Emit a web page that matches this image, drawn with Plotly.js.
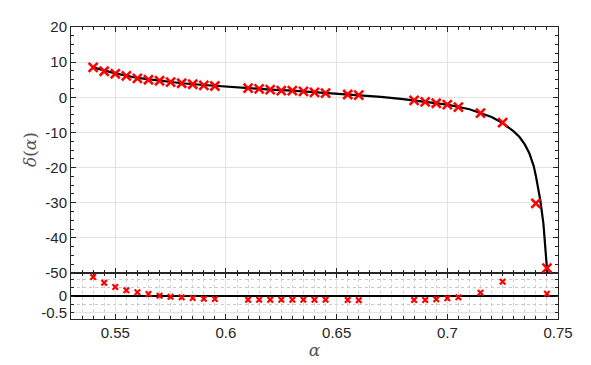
<!DOCTYPE html>
<html>
<head>
<meta charset="utf-8">
<script src="https://cdn.plot.ly/plotly-3.0.1.min.js"></script>
<style>
html, body { margin: 0; padding: 0; background: #fff; }
#chart { width: 591px; height: 365px; }
</style>
</head>
<body>
<div id="chart"></div>
<script>
// measured points (red crosses)
const alphaPts = [0.54, 0.545, 0.55, 0.555, 0.56, 0.565, 0.57, 0.575, 0.58, 0.585, 0.59, 0.595,
                  0.61, 0.615, 0.62, 0.625, 0.63, 0.635, 0.64, 0.645, 0.655, 0.66,
                  0.685, 0.69, 0.695, 0.70, 0.705, 0.715, 0.725, 0.74, 0.745];
const deltaPts = [8.5, 7.4, 6.7, 6.1, 5.4, 5.0, 4.7, 4.3, 4.0, 3.7, 3.4, 3.2,
                  2.6, 2.4, 2.2, 1.9, 1.9, 1.7, 1.4, 1.2, 0.8, 0.6,
                  -0.9, -1.3, -1.7, -2.1, -2.8, -4.5, -7.2, -30.2, -48.6];

// fitted curve (black line)
const curveAlpha = [0.54, 0.55, 0.56, 0.57, 0.58, 0.59, 0.60, 0.61, 0.62, 0.63, 0.64, 0.65,
                    0.66, 0.67, 0.68, 0.69, 0.70, 0.71, 0.715, 0.72, 0.725, 0.73, 0.7326,
                    0.735, 0.7371, 0.739, 0.7401, 0.742, 0.7434, 0.7443, 0.745, 0.7453];
const curveDelta = [8.5, 6.8, 5.5, 4.7, 4.0, 3.5, 3.0, 2.6, 2.2, 1.9, 1.5, 1.1,
                    0.6, 0.1, -0.5, -1.2, -2.1, -3.4, -4.4, -5.6, -7.3, -9.7, -11.3,
                    -13.4, -16.0, -19.5, -22.7, -29.3, -35.9, -42.5, -49.1, -51.0];

// residuals (lower panel), 0.74 is off scale
const residAlpha = [0.54, 0.545, 0.55, 0.555, 0.56, 0.565, 0.57, 0.575, 0.58, 0.585, 0.59, 0.595,
                    0.61, 0.615, 0.62, 0.625, 0.63, 0.635, 0.64, 0.645, 0.655, 0.66,
                    0.685, 0.69, 0.695, 0.70, 0.705, 0.715, 0.725, 0.745];
const residVals = [0.57, 0.40, 0.27, 0.17, 0.11, 0.06, 0.01, -0.02, -0.04, -0.06, -0.08, -0.09,
                   -0.11, -0.11, -0.11, -0.11, -0.11, -0.11, -0.11, -0.11, -0.12, -0.13,
                   -0.12, -0.12, -0.10, -0.07, -0.04, 0.10, 0.43, 0.07];

const xTicks = [0.55, 0.6, 0.65, 0.7, 0.75];
const xTickText = ['0.55', '0.6', '0.65', '0.7', '0.75'];
const yTicks = [-50, -40, -30, -20, -10, 0, 10, 20];
const yTickText = ['-50', '-40', '-30', '-20', '-10', '0', '10', '20'];
const rTicks = [-0.5, 0];
const rTickText = ['-0.5', '0'];

const ink = '#262626';
const tickFont = {family: 'Liberation Sans, Arial, sans-serif', size: 15, color: ink};
const mathFont = {family: 'DejaVu Serif, Liberation Serif, serif', size: 17, color: '#555'};

const traces = [
  {
    x: curveAlpha, y: curveDelta, xaxis: 'x2', yaxis: 'y',
    mode: 'lines', line: {color: 'black', width: 2.2}
  },
  {
    x: alphaPts, y: deltaPts, xaxis: 'x2', yaxis: 'y',
    mode: 'markers',
    marker: {symbol: 'x-thin', size: 9, color: 'red', line: {color: 'red', width: 2.6}}
  },
  {
    x: residAlpha, y: residVals, xaxis: 'x', yaxis: 'y2',
    mode: 'markers',
    marker: {symbol: 'x-thin', size: 5.5, color: 'red', line: {color: 'red', width: 2.2}}
  }
];

const xCommon = {
  range: [0.53, 0.75],
  tickmode: 'array', tickvals: xTicks, ticktext: xTickText,
  ticks: 'inside', ticklen: 5, tickcolor: ink, tickwidth: 1,
  mirror: 'ticks', showline: true, linecolor: ink, linewidth: 1,
  showgrid: true, gridcolor: '#e2e2e2', gridwidth: 1,
  zeroline: false, tickfont: tickFont
};

const layout = {
  width: 591, height: 365,
  margin: {l: 71, r: 33, t: 27, b: 46},
  paper_bgcolor: 'white', plot_bgcolor: 'white',
  showlegend: false,
  xaxis: Object.assign({}, xCommon, {
    anchor: 'y2',
    minor: {tick0: 0, dtick: 0.005, ticks: 'inside', ticklen: 3, tickcolor: ink,
            showgrid: true, gridcolor: '#d0d0d0', griddash: 'dot', gridwidth: 1},
    title: {text: '<i>α</i>', font: mathFont, standoff: 4}
  }),
  xaxis2: Object.assign({}, xCommon, {
    anchor: 'y', matches: 'x', showticklabels: false,
    minor: {tick0: 0, dtick: 0.005, ticks: 'inside', ticklen: 3, tickcolor: ink, showgrid: false}
  }),
  yaxis: {
    domain: [0.1575, 1], anchor: 'x2',
    range: [-50, 20], tickmode: 'array', tickvals: yTicks, ticktext: yTickText,
    ticks: 'inside', ticklen: 5, tickcolor: ink,
    minor: {tick0: 0, dtick: 2.5, ticks: 'inside', ticklen: 3, tickcolor: ink, showgrid: false},
    mirror: 'ticks', showline: true, linecolor: ink, linewidth: 1,
    showgrid: true, gridcolor: '#e2e2e2', zeroline: false,
    tickfont: tickFont
  },
  yaxis2: {
    domain: [0, 0.1575], anchor: 'x',
    range: [-0.69, 0.69], tickmode: 'array', tickvals: rTicks, ticktext: rTickText,
    ticks: 'inside', ticklen: 3, tickcolor: ink,
    minor: {tick0: 0, dtick: 0.25, ticks: 'inside', ticklen: 3, tickcolor: ink,
            showgrid: true, gridcolor: '#c8c8c8', griddash: 'dot'},
    mirror: 'ticks', showline: true, linecolor: ink, linewidth: 1,
    showgrid: true, gridcolor: '#e2e2e2',
    zeroline: true, zerolinecolor: 'black', zerolinewidth: 1.6,
    tickfont: tickFont
  },
  annotations: [{
    text: '<i>δ</i>(<i>α</i>)', font: mathFont, textangle: -90,
    xref: 'paper', yref: 'paper', x: -0.084, y: 0.579,
    xanchor: 'center', yanchor: 'middle', showarrow: false
  }]
};

Plotly.newPlot('chart', traces, layout, {displayModeBar: false, staticPlot: true});
</script>
</body>
</html>
